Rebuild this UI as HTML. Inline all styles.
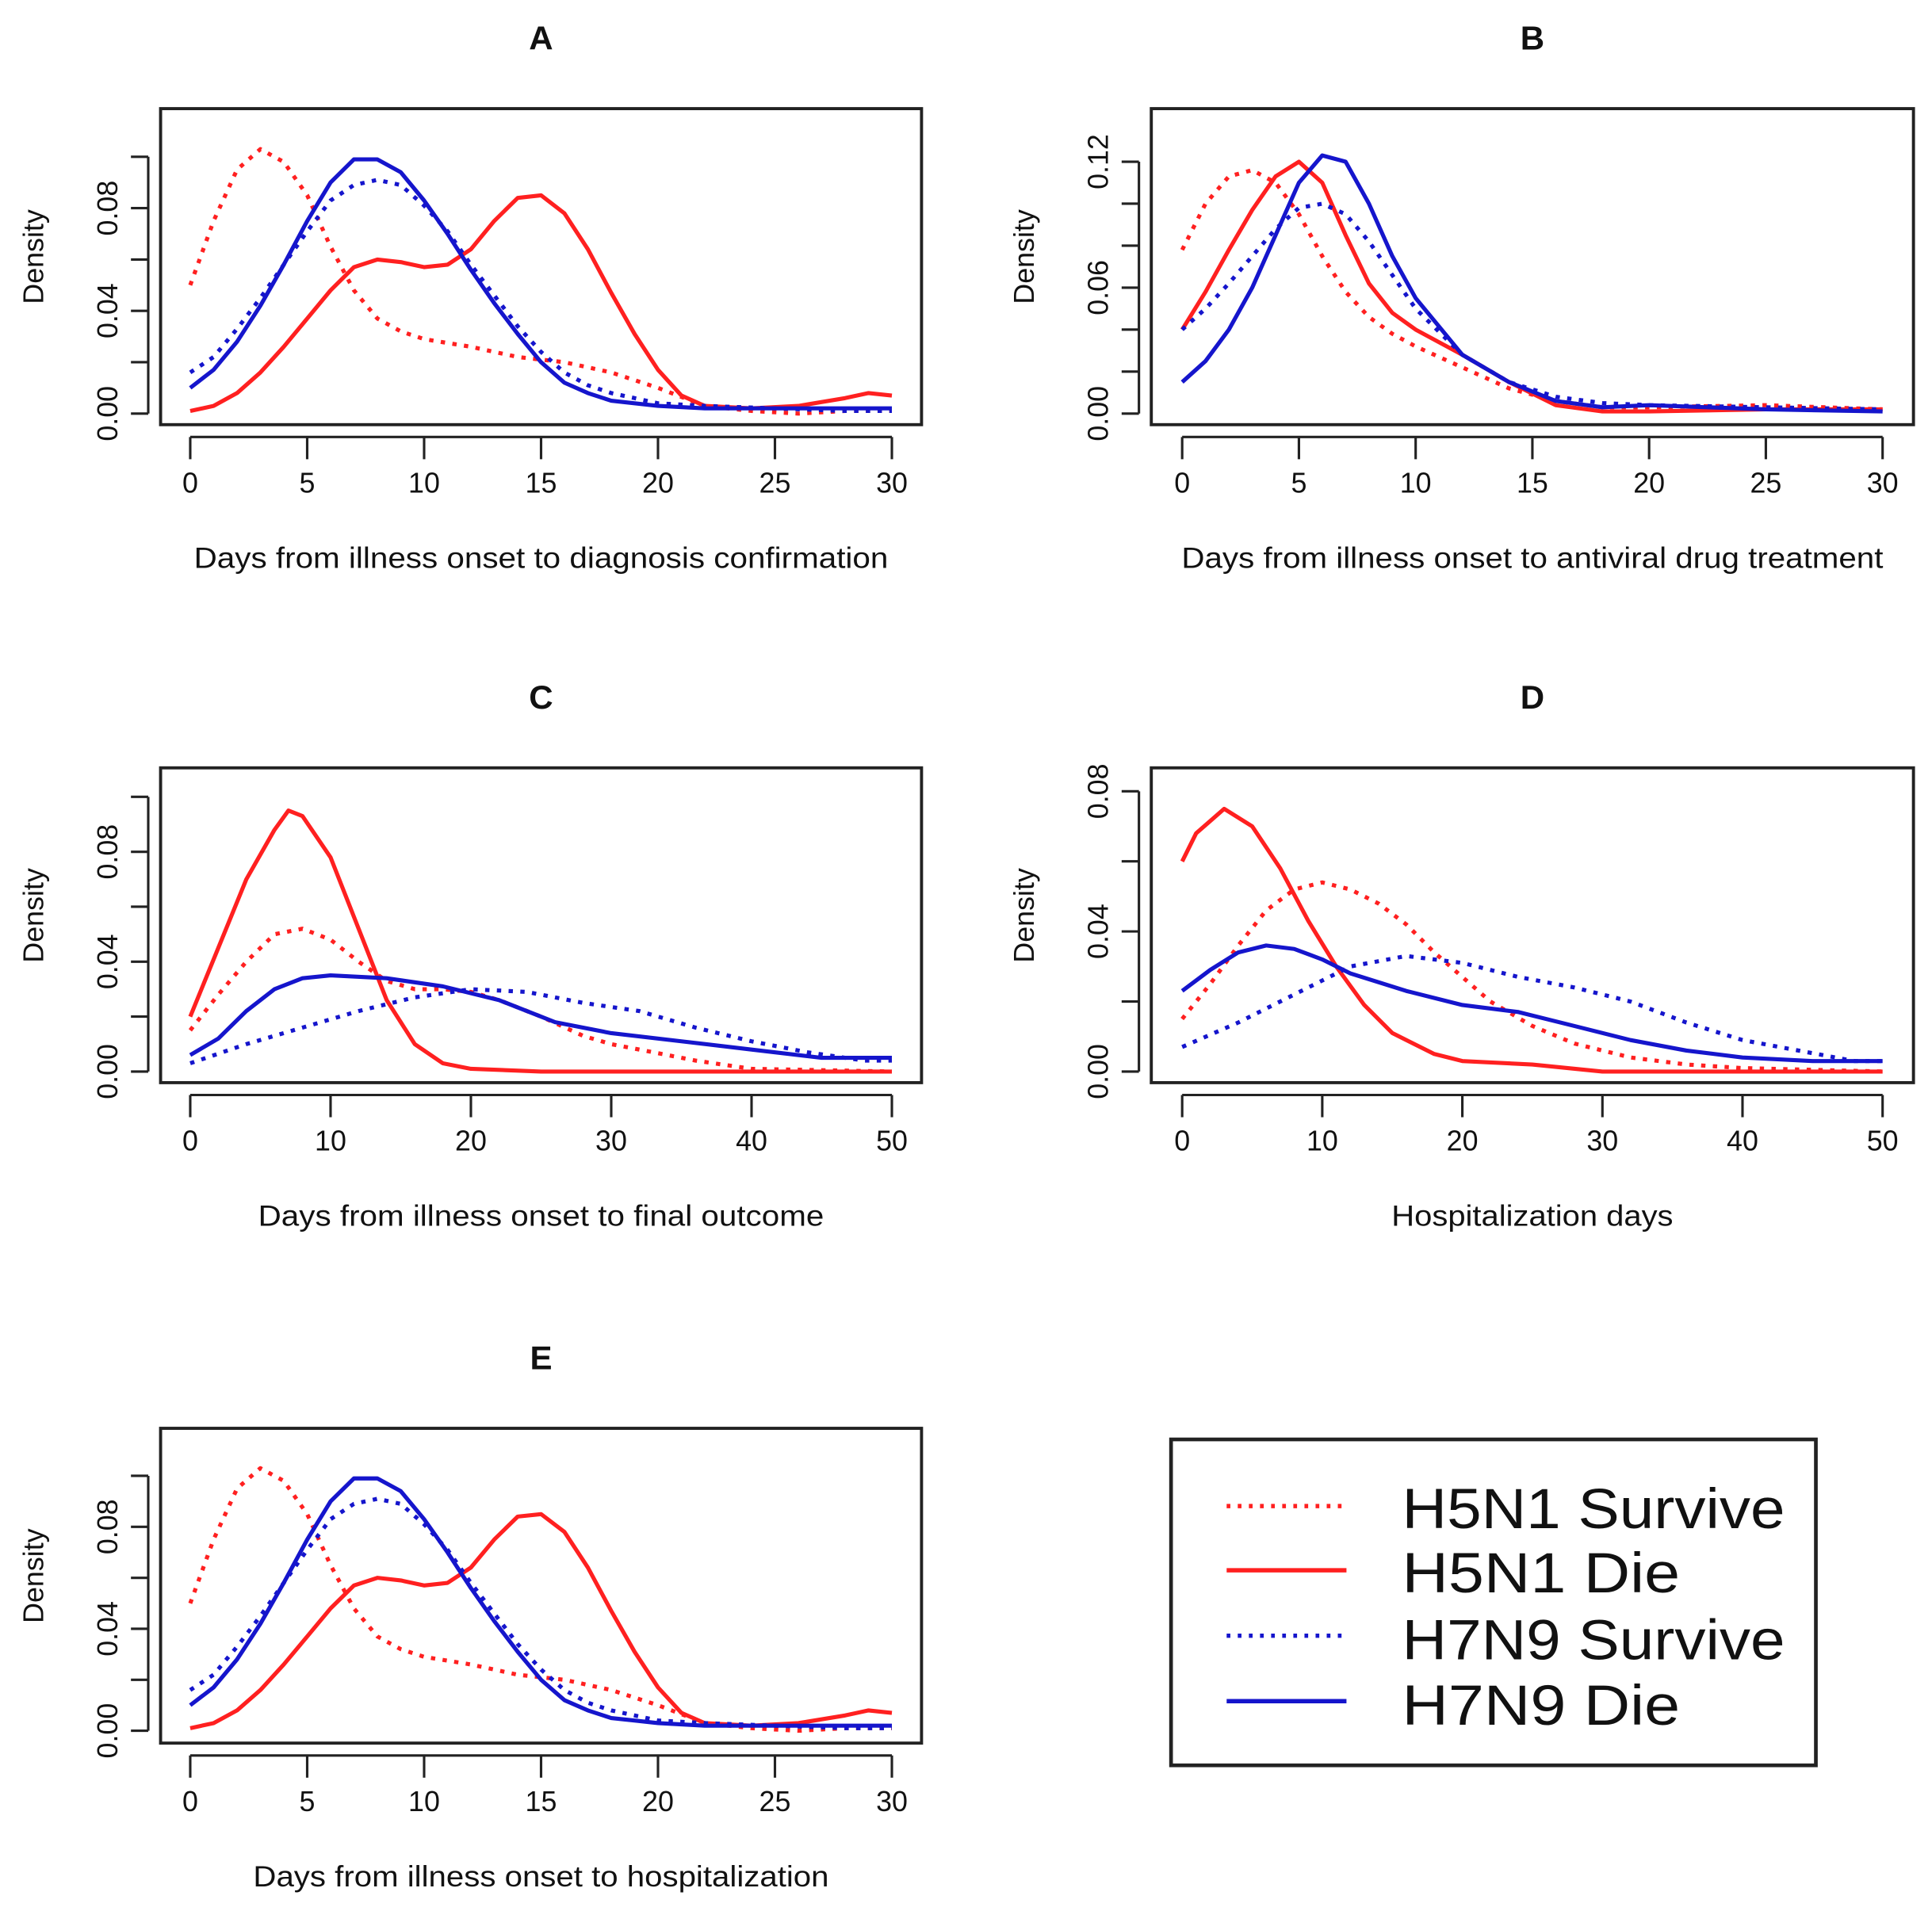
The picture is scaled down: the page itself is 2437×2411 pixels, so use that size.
<!DOCTYPE html>
<html><head><meta charset="utf-8"><style>
html,body{margin:0;padding:0;background:#fff;}
svg{display:block;}
text{font-family:"Liberation Sans",sans-serif;fill:#111;}
</style></head>
<body>
<svg id="fig" width="2437" height="2411" viewBox="0 0 1564 1548" preserveAspectRatio="none" xmlns="http://www.w3.org/2000/svg">
<g>
<rect x="948" y="1166" width="522" height="264" fill="#fff" stroke="#222" stroke-width="3"/>
<line x1="993" y1="1220" x2="1090" y2="1220" stroke="#ff2020" stroke-width="3.5" stroke-dasharray="3 6"/>
<line x1="993" y1="1272" x2="1090" y2="1272" stroke="#ff2020" stroke-width="3.5"/>
<line x1="993" y1="1325" x2="1090" y2="1325" stroke="#1515cc" stroke-width="3.5" stroke-dasharray="3 6"/>
<line x1="993" y1="1378" x2="1090" y2="1378" stroke="#1515cc" stroke-width="3.5"/>
<text x="1135" y="1238" font-size="46" textLength="310" lengthAdjust="spacingAndGlyphs">H5N1 Survive</text>
<text x="1135" y="1290" font-size="46" textLength="225" lengthAdjust="spacingAndGlyphs">H5N1 Die</text>
<text x="1135" y="1344" font-size="46" textLength="310" lengthAdjust="spacingAndGlyphs">H7N9 Survive</text>
<text x="1135" y="1397" font-size="46" textLength="225" lengthAdjust="spacingAndGlyphs">H7N9 Die</text>
</g>
</svg>
<script>
// Panel A data (days 0-30)
const aX1 = [0,1,2,3,4,5,6,7,8,9,10,12,14,16,18,20,22,24,26,28,30];
const aH5S = [0.05,0.075,0.095,0.103,0.098,0.085,0.065,0.048,0.037,0.032,0.029,0.026,0.022,0.02,0.016,0.01,0.003,0.001,0.0,0.001,0.001];
const aX2 = [0,1,2,3,4,5,6,7,8,9,10,11,12,13,14,15,16,17,18,19,20,21,22,24,26,28,29,30];
const aH5D = [0.001,0.003,0.008,0.016,0.026,0.037,0.048,0.057,0.06,0.059,0.057,0.058,0.064,0.075,0.084,0.085,0.078,0.064,0.047,0.031,0.017,0.007,0.003,0.002,0.003,0.006,0.008,0.007];
const aX3 = [0,1,2,3,4,5,6,7,8,9,10,11,12,13,14,15,16,17,18,19,20,22,25,28,30];
const aH7S = [0.016,0.022,0.033,0.045,0.058,0.071,0.083,0.089,0.091,0.089,0.081,0.071,0.058,0.046,0.034,0.024,0.016,0.011,0.008,0.006,0.004,0.003,0.002,0.001,0.001];
const aH7D = [0.01,0.017,0.028,0.042,0.058,0.075,0.09,0.099,0.099,0.094,0.083,0.07,0.056,0.043,0.031,0.02,0.012,0.008,0.005,0.004,0.003,0.002,0.002,0.002,0.002];
// Panel B data
const bX = [0,1,2,3,4,5,6,7,8,9,10,12,14,16,18,20,25,30];
const bH5S = [0.078,0.1,0.113,0.116,0.11,0.095,0.075,0.058,0.046,0.038,0.032,0.022,0.012,0.006,0.003,0.003,0.004,0.002];
const bH5D = [0.04,0.058,0.078,0.097,0.113,0.12,0.11,0.085,0.062,0.048,0.04,0.028,0.015,0.004,0.001,0.001,0.002,0.002];
const bH7S = [0.04,0.05,0.062,0.075,0.088,0.098,0.1,0.095,0.082,0.066,0.05,0.028,0.015,0.008,0.005,0.004,0.003,0.002];
const bH7D = [0.015,0.025,0.04,0.06,0.085,0.11,0.123,0.12,0.1,0.075,0.055,0.028,0.015,0.006,0.003,0.004,0.002,0.001];
// Panel C data (days 0-50)
const cX1 = [0,2,4,6,8,10,12,14,16,18,20,22,25,28,30,33,36,40,50];
const cH5S = [0.015,0.028,0.04,0.05,0.052,0.048,0.04,0.033,0.03,0.03,0.029,0.026,0.02,0.013,0.01,0.007,0.004,0.001,0.0];
const cX2 = [0,2,4,6,7,8,10,12,14,16,18,20,25,50];
const cH5D = [0.02,0.045,0.07,0.088,0.095,0.093,0.078,0.052,0.026,0.01,0.003,0.001,0.0,0.0];
const cX3 = [0,4,8,12,16,20,24,28,32,36,40,44,48,50];
const cH7S = [0.003,0.01,0.016,0.022,0.027,0.03,0.029,0.025,0.022,0.016,0.011,0.007,0.004,0.004];
const cX4 = [0,2,4,6,8,10,14,18,22,26,30,35,40,45,50];
const cH7D = [0.006,0.012,0.022,0.03,0.034,0.035,0.034,0.031,0.026,0.018,0.014,0.011,0.008,0.005,0.005];
// Panel D data
const dX1 = [0,2,4,6,8,10,12,14,16,18,20,22,25,28,32,36,40,50];
const dH5S = [0.015,0.025,0.036,0.046,0.052,0.054,0.052,0.048,0.042,0.034,0.027,0.02,0.013,0.008,0.004,0.002,0.001,0.0];
const dX2 = [0,1,3,5,7,9,11,13,15,18,20,25,30,50];
const dH5D = [0.06,0.068,0.075,0.07,0.058,0.043,0.03,0.019,0.011,0.005,0.003,0.002,0.0,0.0];
const dX3 = [0,4,8,12,16,20,24,28,32,36,40,44,48,50];
const dH7S = [0.007,0.014,0.022,0.03,0.033,0.031,0.027,0.024,0.02,0.014,0.009,0.006,0.003,0.003];
const dX4 = [0,2,4,6,8,10,12,16,20,24,28,32,36,40,45,50];
const dH7D = [0.023,0.029,0.034,0.036,0.035,0.032,0.028,0.023,0.019,0.017,0.013,0.009,0.006,0.004,0.003,0.003];
// Tick labels
const ticks30 = [0,5,10,15,20,25,30];
const ticks50 = [0,10,20,30,40,50];
const yLabA = ["0.00","0.04","0.08"];
const yLabB = ["0.00","0.06","0.12"];

const NS = "http://www.w3.org/2000/svg";
const svg = document.getElementById('fig');
const RED = "#ff2020", BLUE = "#1515cc";

function mk(tag, attrs, parent){
  const e = document.createElementNS(NS, tag);
  for (const k in attrs) e.setAttribute(k, attrs[k]);
  (parent||svg).appendChild(e);
  return e;
}

function panel(cfg){
  const g = mk('g', {});
  
  
  const xs = v => cfg.x0 + v / cfg.xmax * (cfg.x1 - cfg.x0);
  const ys = v => cfg.y0 - v / cfg.ystep * cfg.ypx;
  const t = mk('text', {x:(cfg.bl+cfg.br)/2, y:cfg.bt-48, 'font-size':27, 'font-weight':'bold', 'text-anchor':'middle'}, g);
  t.textContent = cfg.id;
  
  
  const box = mk('rect', {x:cfg.bl, y:cfg.bt, width:cfg.br-cfg.bl, height:cfg.bb-cfg.bt, fill:'none', stroke:'#222', 'stroke-width':2.5}, g);
  
  
  const xa = mk('g', {}, g);
  
  
  mk('line', {x1:xs(cfg.xt[0]), x2:xs(cfg.xt[cfg.xt.length-1]), y1:cfg.bb+10, y2:cfg.bb+10, stroke:'#222', 'stroke-width':2}, xa);
  cfg.xt.forEach(v => {
    mk('line', {x1:xs(v), x2:xs(v), y1:cfg.bb+10, y2:cfg.bb+28, stroke:'#222', 'stroke-width':2}, xa);
    const tl = mk('text', {x:xs(v), y:cfg.bb+55, 'font-size':23, 'text-anchor':'middle'}, xa);
    tl.textContent = v;
    
    
  });
  const xt = mk('text', {x:(cfg.bl+cfg.br)/2, y:cfg.bb+116, 'font-size':24, 'text-anchor':'middle', textLength:cfg.tl, lengthAdjust:'spacingAndGlyphs'}, g);
  xt.textContent = cfg.xtitle;
  
  
  const ya = mk('g', {}, g);
  
  
  mk('line', {x1:cfg.bl-10, x2:cfg.bl-10, y1:ys(0), y2:ys(cfg.ystep*cfg.nt), stroke:'#222', 'stroke-width':2}, ya);
  for (let i=0;i<=cfg.nt;i++){
    const yy = ys(cfg.ystep*i);
    mk('line', {x1:cfg.bl-24, x2:cfg.bl-10, y1:yy, y2:yy, stroke:'#222', 'stroke-width':2}, ya);
  }
  cfg.yl.forEach(lab => {
    const yy = ys(parseFloat(lab));
    const tl = mk('text', {x:0, y:0, 'font-size':23, 'text-anchor':'middle', transform:`translate(${cfg.bl-35},${yy}) rotate(-90)`}, ya);
    tl.textContent = lab;
    
    
  });
  const yt = mk('text', {x:0, y:0, 'font-size':23, 'text-anchor':'middle', transform:`translate(${cfg.bl-95},${(cfg.bt+cfg.bb)/2-8}) rotate(-90)`}, g);
  yt.textContent = 'Density';
  
  
  cfg.series.forEach(s => {
    const pts = s.x.map((xv,i) => xs(xv).toFixed(1)+','+ys(s.y[i]).toFixed(1)).join(' ');
    const pl = mk('polyline', {points:pts, fill:'none', stroke:s.c, 'stroke-width':3.3, 'stroke-linejoin':'round'}, g);
    if (s.dot) pl.setAttribute('stroke-dasharray', '3.5 6');
    
    
  });
}

const sA = [
  {name:'line-h5n1-survive', x:aX1, y:aH5S, c:RED, dot:true},
  {name:'line-h5n1-die', x:aX2, y:aH5D, c:RED},
  {name:'line-h7n9-survive', x:aX3, y:aH7S, c:BLUE, dot:true},
  {name:'line-h7n9-die', x:aX3, y:aH7D, c:BLUE}
];
panel({id:'A', bl:130, br:746, bt:88, bb:344, x0:154, x1:722, xmax:30, xt:ticks30, y0:335, ystep:0.02, ypx:41.6, nt:5, yl:yLabA, tl:562, xtitle:'Days from illness onset to diagnosis confirmation', series:sA});
panel({id:'B', bl:932, br:1549, bt:88, bb:344, x0:957, x1:1524, xmax:30, xt:ticks30, y0:335, ystep:0.02, ypx:34, nt:6, yl:yLabB, tl:568, xtitle:'Days from illness onset to antiviral drug treatment', series:[
  {name:'line-h5n1-survive', x:bX, y:bH5S, c:RED, dot:true},
  {name:'line-h5n1-die', x:bX, y:bH5D, c:RED},
  {name:'line-h7n9-survive', x:bX, y:bH7S, c:BLUE, dot:true},
  {name:'line-h7n9-die', x:bX, y:bH7D, c:BLUE}
]});
panel({id:'C', bl:130, br:746, bt:622, bb:877, x0:154, x1:722, xmax:50, xt:ticks50, y0:868, ystep:0.02, ypx:44.5, nt:5, yl:yLabA, tl:458, xtitle:'Days from illness onset to final outcome', series:[
  {name:'line-h5n1-survive', x:cX1, y:cH5S, c:RED, dot:true},
  {name:'line-h5n1-die', x:cX2, y:cH5D, c:RED},
  {name:'line-h7n9-survive', x:cX3, y:cH7S, c:BLUE, dot:true},
  {name:'line-h7n9-die', x:cX4, y:cH7D, c:BLUE}
]});
panel({id:'D', bl:932, br:1549, bt:622, bb:877, x0:957, x1:1524, xmax:50, xt:ticks50, y0:868, ystep:0.02, ypx:56.75, nt:4, yl:yLabA, tl:228, xtitle:'Hospitalization days', series:[
  {name:'line-h5n1-survive', x:dX1, y:dH5S, c:RED, dot:true},
  {name:'line-h5n1-die', x:dX2, y:dH5D, c:RED},
  {name:'line-h7n9-survive', x:dX3, y:dH7S, c:BLUE, dot:true},
  {name:'line-h7n9-die', x:dX4, y:dH7D, c:BLUE}
]});
panel({id:'E', bl:130, br:746, bt:1157, bb:1412, x0:154, x1:722, xmax:30, xt:ticks30, y0:1402, ystep:0.02, ypx:41.3, nt:5, yl:yLabA, tl:466, xtitle:'Days from illness onset to hospitalization', series:sA});
</script>
</body></html>
